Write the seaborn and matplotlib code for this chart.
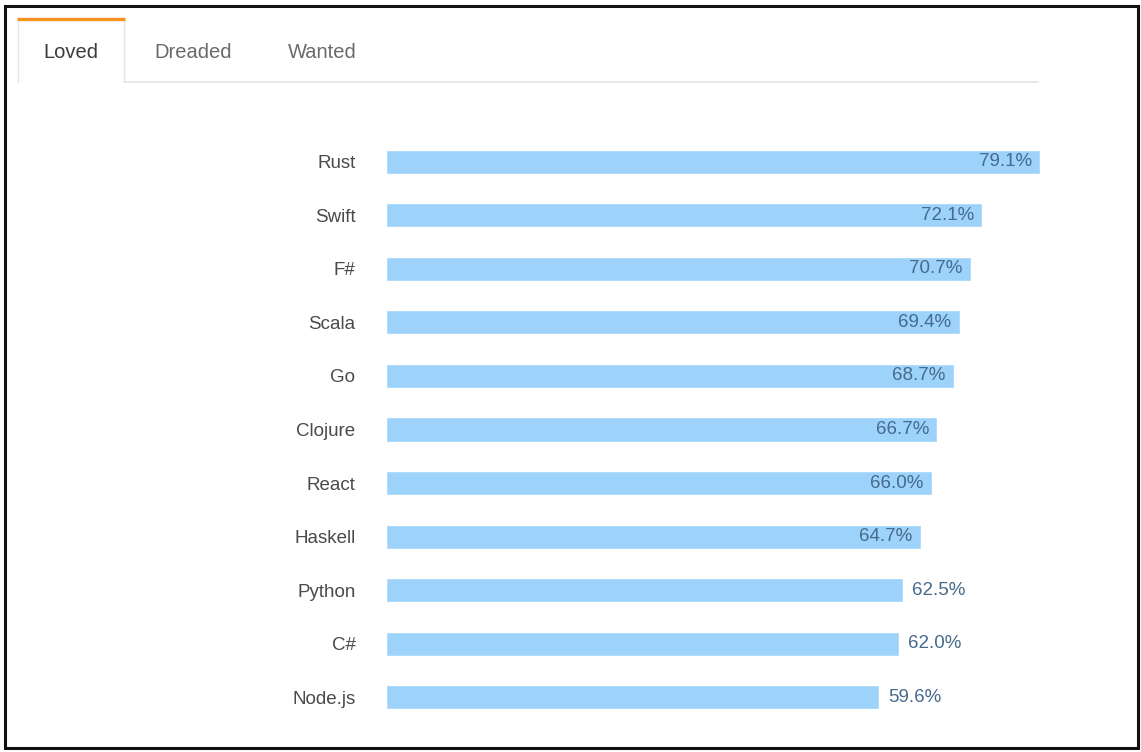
import matplotlib
matplotlib.use("Agg")
import matplotlib.pyplot as plt
from matplotlib.patches import Rectangle
from matplotlib.lines import Line2D
import seaborn as sns
import pandas as pd

# Survey results: most loved languages / technologies
languages = ["Rust", "Swift", "F#", "Scala", "Go", "Clojure", "React",
             "Haskell", "Python", "C#", "Node.js"]
loved_pct = [79.1, 72.1, 70.7, 69.4, 68.7, 66.7, 66.0, 64.7, 62.5, 62.0, 59.6]
tabs = ["Loved", "Dreaded", "Wanted"]

df = pd.DataFrame({"language": languages, "pct": loved_pct})

sns.set_theme(style="white")
plt.rcParams["font.family"] = ["Liberation Sans", "DejaVu Sans"]

W, H = 1141, 752
fig = plt.figure(figsize=(W / 100, H / 100), dpi=100)
fig.patch.set_facecolor("white")


def fx(px):
    return px / W


def fy(py):
    return 1 - py / H


# Bar panel
ax_left, ax_right, ax_top, ax_bot = 386, 1040, 135, 724
ax = fig.add_axes([fx(ax_left), fy(ax_bot), fx(ax_right - ax_left),
                   (ax_bot - ax_top) / H])
bar_color = "#9dd3fb"
sns.barplot(data=df, x="pct", y="language", orient="h", color=bar_color,
            width=0.45, saturation=1, ax=ax)
ax.set_xlim(0, max(loved_pct))
ax.set_ylim(len(languages) - 0.5, -0.5)
ax.set_xlabel("")
ax.set_ylabel("")
ax.set_xticks([])
for s in ax.spines.values():
    s.set_visible(False)
ax.tick_params(axis="y", length=0, pad=22, labelsize=13.5, labelcolor="#4a4a4a")
ax.set_facecolor("none")

# Percentage labels: inside the bar when it is long enough, else just after it
value_color = "#466a8c"
for i, v in enumerate(loved_pct):
    txt = f"{v:.1f}%"
    if v >= 64:
        ax.annotate(txt, (v, i), xytext=(-6, 0), textcoords="offset points",
                    ha="right", va="center", fontsize=13.5, color=value_color)
    else:
        ax.annotate(txt, (v, i), xytext=(7, 0), textcoords="offset points",
                    ha="left", va="center", fontsize=13.5, color=value_color)

# Outer frame
fig.add_artist(Rectangle((fx(5), fy(748)), fx(1138 - 5), (748 - 6) / H,
                         transform=fig.transFigure, fill=False,
                         edgecolor="#111111", linewidth=2.2))

# Tab strip
tab_gray = "#e2e4e6"
fig.add_artist(Line2D([fx(124), fx(1038)], [fy(82), fy(82)],
                      transform=fig.transFigure, color=tab_gray, linewidth=1.2))
fig.add_artist(Line2D([fx(17.5), fx(17.5)], [fy(20), fy(82)],
                      transform=fig.transFigure, color=tab_gray, linewidth=1.0))
fig.add_artist(Line2D([fx(124), fx(124)], [fy(20), fy(82)],
                      transform=fig.transFigure, color=tab_gray, linewidth=1.0))
fig.add_artist(Line2D([fx(17), fx(124.5)], [fy(19), fy(19)],
                      transform=fig.transFigure, color="#f6921e", linewidth=2.4,
                      solid_capstyle="butt"))

tab_x = [71, 193, 322]
tab_colors = ["#3c3c3c", "#6a6a6a", "#6a6a6a"]
for name, x, c in zip(tabs, tab_x, tab_colors):
    fig.text(fx(x), fy(52), name, ha="center", va="center", fontsize=14.5,
             color=c)

fig.savefig("out.png", dpi=100, facecolor="white")
